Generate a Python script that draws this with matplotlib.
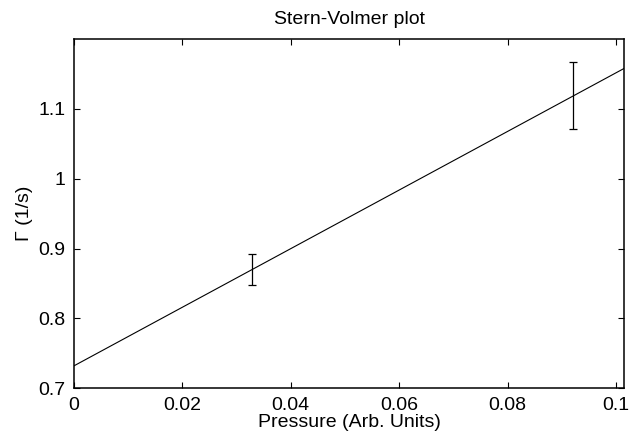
import matplotlib
matplotlib.use("Agg")
from matplotlib import pyplot as plt

plt.rcParams['font.family'] = ['Liberation Sans', 'DejaVu Sans']

# measured points
pressure = [0.0329, 0.0920]
gamma = [0.870, 1.119]
gamma_err = [0.022, 0.048]

# linear fit line
fit_x = [0.0, 0.1015]
fit_y = [0.732, 1.158]

x_ticks = [0, 0.02, 0.04, 0.06, 0.08, 0.1]
x_labels = ["0", "0.02", "0.04", "0.06", "0.08", "0.1"]
y_ticks = [0.7, 0.8, 0.9, 1.0, 1.1]
y_labels = ["0.7", "0.8", "0.9", "1", "1.1"]

fig = plt.figure(figsize=(6.39, 4.43), dpi=100)
ax = fig.add_axes([0.1155, 0.1235, 0.8615, 0.7885])

ax.plot(fit_x, fit_y, color='black', linewidth=0.8)
ax.errorbar(pressure, gamma, yerr=gamma_err, fmt='none', ecolor='black',
            elinewidth=0.9, capsize=2.6, capthick=0.9)

ax.set_xlim(0, 0.1015)
ax.set_ylim(0.7, 1.2)
ax.set_xticks(x_ticks)
ax.set_xticklabels(x_labels)
ax.set_yticks(y_ticks)
ax.set_yticklabels(y_labels)

ax.tick_params(direction='in', top=True, right=True, length=4.5, width=0.8,
               labelsize=14, pad=6)
for s in ax.spines.values():
    s.set_linewidth(1.1)

ax.set_title("Stern-Volmer plot", fontsize=14, pad=11)
ax.set_xlabel("Pressure (Arb. Units)", fontsize=14, labelpad=0)
ax.set_ylabel("Γ (1/s)", fontsize=14, labelpad=4)

plt.savefig("out.png", dpi=100)
